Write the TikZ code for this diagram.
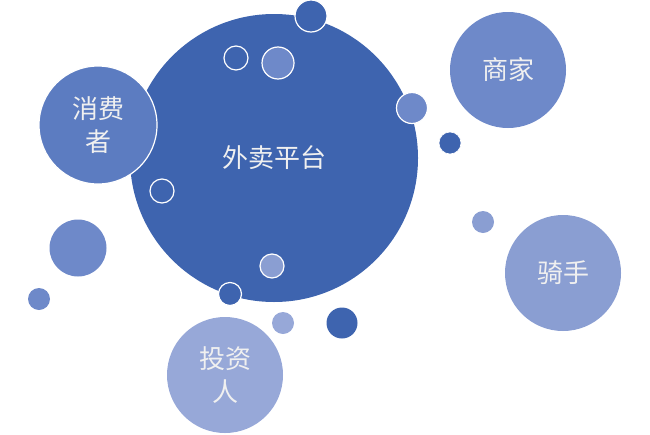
\documentclass[tikz,border=0pt]{standalone}
\usepackage{fontspec}
\setmainfont{Noto Sans CJK SC}
\definecolor{deepblue}{HTML}{3E64AF}
\definecolor{midblue}{HTML}{5C7CC1}
\definecolor{softblue}{HTML}{6E89C9}
\definecolor{paleblue}{HTML}{8A9ED2}
\definecolor{mistblue}{HTML}{97A8D8}
\begin{document}
\begin{tikzpicture}[x=1pt,y=-1pt,
    bubble/.style={circle,inner sep=0pt,outer sep=0pt,text=white!94!black,font=\fontsize{26}{33}\selectfont,align=center},
    rim/.style={draw=white,line width=1.2pt}]
    \useasboundingbox (0,0) rectangle (650,434);

    % big platform circle
    \node[bubble,fill=deepblue,minimum size=288pt] (platform) at (274,158) {外卖平台};

    \node[bubble,fill=midblue,rim,minimum size=118pt] (consumer) at (98,125) {消费\\者};
    \node[bubble,fill=softblue,minimum size=116pt] (merchant) at (508,70) {商家};
    \node[bubble,fill=paleblue,minimum size=116pt] (rider) at (563,273) {骑手};
    \node[bubble,fill=mistblue,minimum size=116pt] (investor) at (225,375) {投资\\人};

    % small dots
    \node[bubble,fill=deepblue,rim,minimum size=32pt] (dotA) at (311,16) {};
    \node[bubble,fill=deepblue,rim,minimum size=24pt] (dotB) at (236,58) {};
    \node[bubble,fill=softblue,rim,minimum size=32pt] (dotC) at (278,63) {};
    \node[bubble,fill=softblue,rim,minimum size=31pt] (dotD) at (412,108) {};
    \node[bubble,fill=deepblue,rim,line width=0.6pt,minimum size=22pt] (dotE) at (450,143) {};
    \node[bubble,fill=deepblue,rim,minimum size=24pt] (dotF) at (162,191) {};
    \node[bubble,fill=softblue,minimum size=57pt] (dotG) at (78,248) {};
    \node[bubble,fill=softblue,minimum size=22pt] (dotH) at (39,299) {};
    \node[bubble,fill=paleblue,rim,minimum size=24pt] (dotI) at (272,266) {};
    \node[bubble,fill=deepblue,rim,minimum size=23pt] (dotJ) at (230,294) {};
    \node[bubble,fill=mistblue,minimum size=22pt] (dotK) at (283,323) {};
    \node[bubble,fill=deepblue,minimum size=31pt] (dotL) at (342,323) {};
    \node[bubble,fill=paleblue,minimum size=22pt] (dotM) at (483,222) {};

\end{tikzpicture}
\end{document}
